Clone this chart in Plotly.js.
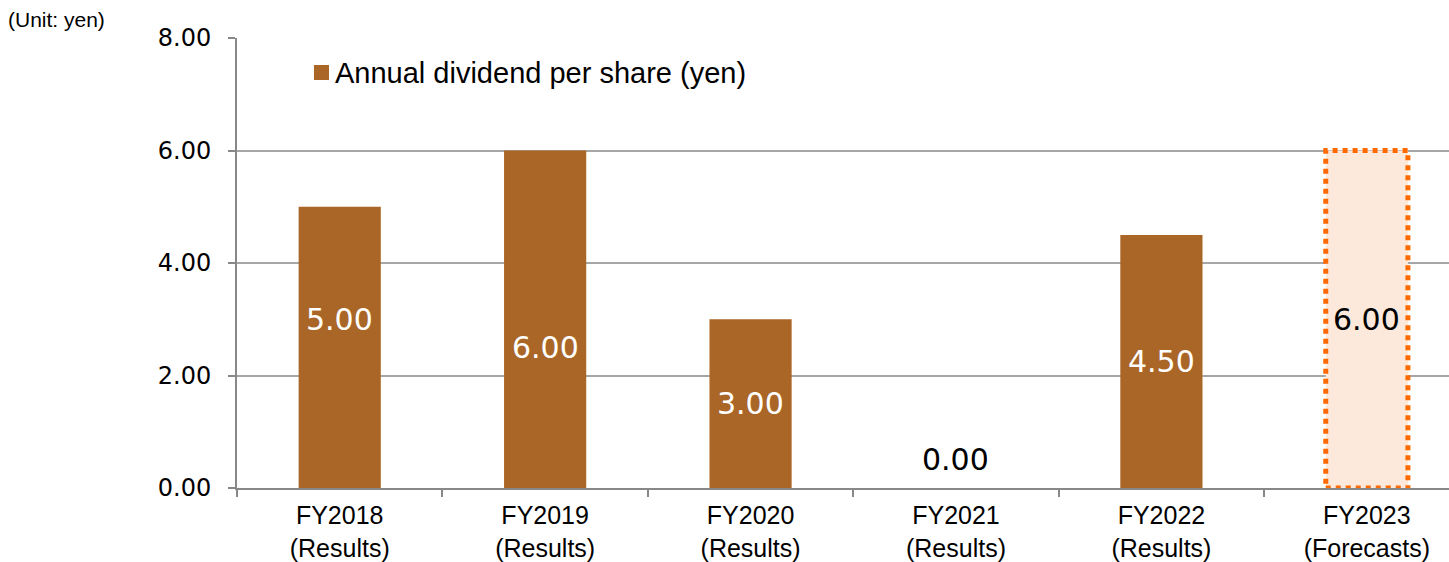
<!DOCTYPE html>
<html>
<head>
<meta charset="utf-8">
<script src="https://cdn.plot.ly/plotly-3.0.1.min.js"></script>
<style>html,body{margin:0;padding:0;background:#fff;}#chart{width:1449px;height:562px;}</style>
</head>
<body>
<div id="chart"></div>
<script>
// ---- data ----
const categories = ["FY2018<br>(Results)", "FY2019<br>(Results)", "FY2020<br>(Results)", "FY2021<br>(Results)", "FY2022<br>(Results)", "FY2023<br>(Forecasts)"];
const dividends = [5.00, 6.00, 3.00, 0.00, 4.50, 6.00];
const valueLabels = ["5.00", "6.00", "3.00", "0.00", "4.50", "6.00"];
const labelHeights = [3.0, 2.5, 1.5, 0.5, 2.25, 3.0];   // where the value labels sit (yen)
const isForecast = [false, false, false, false, false, true];
const yTicks = [0, 2, 4, 6, 8];
const legendName = "Annual dividend per share (yen)";
const unitNote = "(Unit: yen)";

// ---- styles ----
const barColor = "#AA6626";
const forecastFill = "#FCE9DB";
const forecastEdge = "#FF6A00";
const barWidth = 0.4;

const idx = categories.map((_, i) => i);
const resultIdx = idx.filter(i => !isForecast[i]);
const fcIdx = idx.filter(i => isForecast[i]);

const traces = [
  {
    type: "bar",
    x: resultIdx.map(i => categories[i]),
    y: resultIdx.map(i => dividends[i]),
    width: barWidth,
    marker: {color: barColor},
    showlegend: false,
    hoverinfo: "skip"
  },
  {
    type: "bar",
    x: fcIdx.map(i => categories[i]),
    y: fcIdx.map(i => dividends[i]),
    width: barWidth,
    marker: {color: forecastFill},
    showlegend: false,
    hoverinfo: "skip"
  }
];

const shapes = [];
fcIdx.forEach(i => {
  shapes.push({
    type: "rect", xref: "x", yref: "y",
    x0: i - barWidth / 2, x1: i + barWidth / 2,
    y0: 0, y1: dividends[i],
    line: {color: forecastEdge, width: 5, dash: "dot"},
    fillcolor: "rgba(0,0,0,0)",
    layer: "above"
  });
});
// legend swatch
shapes.push({
  type: "rect", xref: "paper", yref: "paper",
  x0: 0.0635, x1: 0.0759, y0: 0.9067, y1: 0.94,
  fillcolor: barColor, line: {width: 0}
});

const annotations = idx.map(i => ({
  xref: "x", yref: "y",
  x: i, y: labelHeights[i],
  text: valueLabels[i],
  showarrow: false,
  font: {family: "DejaVu Sans", size: 30, color: (isForecast[i] || dividends[i] === 0) ? "#000000" : "#FFFFFF"}
}));
annotations.push({
  xref: "paper", yref: "paper", x: 0.0793, y: 0.922, xanchor: "left", yanchor: "middle",
  text: legendName, showarrow: false,
  font: {family: "Liberation Sans, Arial", size: 29, color: "#000"}
});
annotations.push({
  xref: "paper", yref: "paper", x: -0.1905, y: 1.04, xanchor: "left", yanchor: "middle",
  text: unitNote, showarrow: false,
  font: {family: "Liberation Sans, Arial", size: 21, color: "#000"}
});

const layout = {
  width: 1449, height: 562,
  margin: {l: 237, r: 0, t: 38, b: 74},
  paper_bgcolor: "#fff", plot_bgcolor: "#fff",
  showlegend: false,
  bargap: 0.6,
  xaxis: {
    type: "category",
    range: [-0.5, 5.4],
    tickson: "boundaries",
    ticks: "outside", ticklen: 7, tickcolor: "#888", tickwidth: 2,
    showline: true, linecolor: "#888", linewidth: 2,
    showgrid: false, zeroline: false,
    ticklabelstandoff: 4,
    tickfont: {family: "Liberation Sans, Arial", size: 25, color: "#000"}
  },
  yaxis: {
    range: [0, 8],
    tickvals: yTicks,
    tickformat: ".2f",
    ticks: "outside", ticklen: 7, tickcolor: "#888", tickwidth: 2,
    showline: true, linecolor: "#888", linewidth: 2,
    showgrid: true, gridcolor: "#A6A6A6", gridwidth: 2,
    zeroline: false,
    ticklabelstandoff: 12,
    tickfont: {family: "DejaVu Sans", size: 24, color: "#000"}
  },
  shapes: shapes,
  annotations: annotations
};

Plotly.newPlot("chart", traces, layout, {displayModeBar: false, staticPlot: true});
</script>
</body>
</html>
